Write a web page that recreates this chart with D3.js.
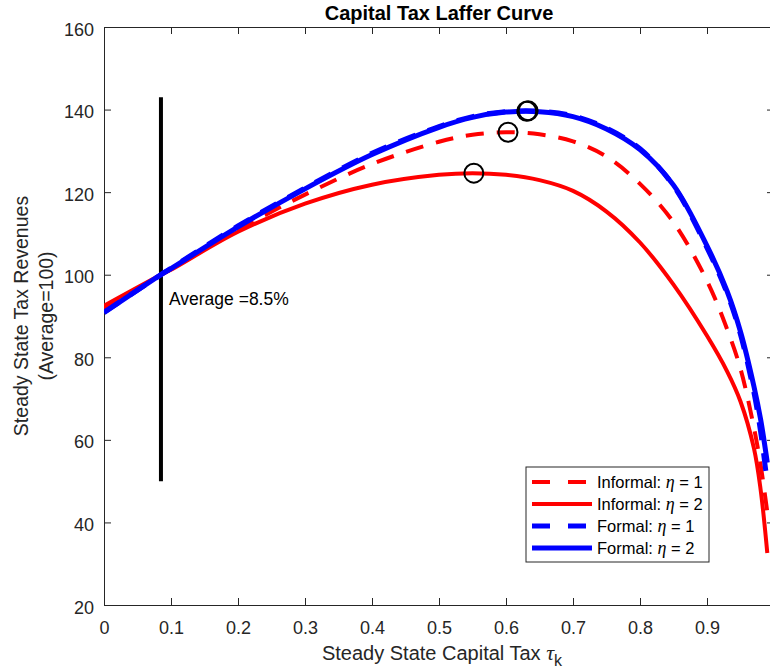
<!DOCTYPE html>
<html>
<head>
<meta charset="utf-8">
<script src="https://cdn.jsdelivr.net/npm/d3@7"></script>
<style>
  body { margin: 0; background: #fff; }
  svg { font-family: "Liberation Sans", Arial, Helvetica, sans-serif; }
</style>
</head>
<body>
<div id="chart"></div>
<script>
// capital tax grid and revenue series (average = 100)
var tau = [0, 0.085, 0.1, 0.2, 0.3, 0.4, 0.5, 0.55, 0.6, 0.65, 0.7, 0.75, 0.8, 0.85, 0.9, 0.93, 0.95, 0.97, 0.98, 0.99];
var informalEta1 = [91.8, 100, 101.3, 110.9, 119.4, 126.8, 132.2, 133.9, 134.5, 134.0, 132.3, 128.6, 122.0, 112.7, 98.5, 86.8, 77.2, 63, 54, 42.5];
var informalEta2 = [92.5, 100, 101.2, 110.4, 117.2, 121.8, 124.2, 124.6, 124.2, 122.9, 120.3, 115.3, 107.8, 97.6, 85.2, 76.6, 69.3, 58, 48, 32.6];
var formalEta1 = [90.9, 100, 101.6, 111.8, 121.0, 129.4, 135.9, 138.3, 139.5, 139.6, 138.5, 135.5, 130.5, 121.5, 106.5, 95.5, 85.5, 71.5, 62, 49.5];
var formalEta2 = [90.8, 100, 101.5, 111.6, 120.8, 129.1, 135.7, 138.1, 139.4, 139.5, 138.3, 135.3, 130.3, 121.7, 107, 96, 86.2, 73, 65, 54.5];

// maxima marked with circles
var peakTau = [0.552, 0.603, 0.631, 0.633];
var peakVal = [124.6, 134.5, 139.6, 139.7];

var avgTau = 0.085;
var avgLine = [50, 143];

var xTicks = [0, 0.1, 0.2, 0.3, 0.4, 0.5, 0.6, 0.7, 0.8, 0.9, 1];
var yTicks = [20, 40, 60, 80, 100, 120, 140, 160];

var series = [
    { name: "Informal: ", values: informalEta1, color: "#ff0000", dash: "18,13", width: 4 },
    { name: "Informal: ", values: informalEta2, color: "#ff0000", dash: null, width: 4 },
    { name: "Formal: ", values: formalEta1, color: "#0000ff", dash: "18,13", width: 5 },
    { name: "Formal: ", values: formalEta2, color: "#0000ff", dash: null, width: 5 }
];
var etaVals = [1, 2, 1, 2];

var W = 770, H = 672;
var margin = { left: 104, right: 774, top: 27, bottom: 605 };

var svg = d3.select("#chart")
    .append("svg")
    .attr("width", W)
    .attr("height", H);

var x = d3.scaleLinear().domain([0, 1]).range([margin.left, margin.right]);
var y = d3.scaleLinear().domain([20, 160]).range([margin.bottom, margin.top]);

svg.append("clipPath").attr("id", "clip")
    .append("rect")
    .attr("x", margin.left).attr("y", margin.top)
    .attr("width", margin.right - margin.left).attr("height", margin.bottom - margin.top);

var axisColor = "#262626";

// axes (box with inward ticks)
function styleAxis(g) {
    g.select(".domain").attr("stroke", axisColor);
    g.selectAll(".tick line").attr("stroke", axisColor);
    g.selectAll(".tick text").attr("fill", axisColor).style("font-size", "18px");
}

svg.append("g")
    .attr("transform", "translate(0," + margin.bottom + ")")
    .call(d3.axisBottom(x).tickValues(xTicks).tickFormat(d3.format("~g")).tickSizeInner(-7).tickSizeOuter(0).tickPadding(16))
    .call(styleAxis);

svg.append("g")
    .attr("transform", "translate(0," + margin.top + ")")
    .call(d3.axisTop(x).tickValues(xTicks).tickFormat("").tickSizeInner(-7).tickSizeOuter(0))
    .call(styleAxis);

svg.append("g")
    .attr("transform", "translate(" + margin.left + ",0)")
    .call(d3.axisLeft(y).tickValues(yTicks).tickSizeInner(-7).tickSizeOuter(0).tickPadding(10))
    .call(styleAxis)
    .call(function (g) { g.selectAll(".tick text").attr("dy", "0.45em"); });

svg.append("g")
    .attr("transform", "translate(" + margin.right + ",0)")
    .call(d3.axisRight(y).tickValues(yTicks).tickFormat("").tickSizeInner(-7).tickSizeOuter(0))
    .call(styleAxis);

var plot = svg.append("g").attr("clip-path", "url(#clip)");

// average tax line
plot.append("line")
    .attr("x1", x(avgTau)).attr("x2", x(avgTau))
    .attr("y1", y(avgLine[0])).attr("y2", y(avgLine[1]))
    .attr("stroke", "#000")
    .attr("stroke-width", 4);

var line = d3.line()
    .x(function (d, i) { return x(tau[i]); })
    .y(function (d) { return y(d); })
    .curve(d3.curveCatmullRom.alpha(0.5));

plot.selectAll("path.curve")
    .data(series)
    .enter()
    .append("path")
    .attr("class", "curve")
    .attr("d", function (d) { return line(d.values); })
    .attr("fill", "none")
    .attr("stroke", function (d) { return d.color; })
    .attr("stroke-width", function (d) { return d.width; })
    .attr("stroke-dasharray", function (d) { return d.dash; });

plot.selectAll("circle.peak")
    .data(peakTau)
    .enter()
    .append("circle")
    .attr("class", "peak")
    .attr("cx", function (d) { return x(d); })
    .attr("cy", function (d, i) { return y(peakVal[i]); })
    .attr("r", 9.5)
    .attr("fill", "none")
    .attr("stroke", "#000")
    .attr("stroke-width", 2);

svg.append("text")
    .attr("x", x(avgTau) + 8)
    .attr("y", 305)
    .style("font-size", "17.5px")
    .attr("fill", "#000")
    .text("Average =8.5%");

// legend
var lg = svg.append("g").attr("transform", "translate(526,467)");
lg.append("rect")
    .attr("width", 183).attr("height", 95)
    .attr("fill", "#fff")
    .attr("stroke", axisColor)
    .attr("stroke-width", 1);

var items = lg.selectAll("g.item")
    .data(series)
    .enter()
    .append("g")
    .attr("transform", function (d, i) { return "translate(0," + (15 + i * 22) + ")"; });

items.append("line")
    .attr("x1", 6).attr("x2", 66)
    .attr("stroke", function (d) { return d.color; })
    .attr("stroke-width", function (d) { return d.width; })
    .attr("stroke-dasharray", function (d) { return d.dash ? "18,18" : null; });

var lt = items.append("text")
    .attr("x", 71)
    .attr("y", 6)
    .style("font-size", "16.5px")
    .attr("fill", "#000");
lt.append("tspan").text(function (d) { return d.name; });
lt.append("tspan")
    .style("font-family", "'Liberation Serif', 'DejaVu Serif', serif")
    .style("font-style", "italic")
    .style("font-size", "18px")
    .text("\u03b7");
lt.append("tspan").text(function (d, i) { return " = " + etaVals[i]; });

// title and axis labels
svg.append("text")
    .attr("x", 439)
    .attr("y", 20)
    .attr("text-anchor", "middle")
    .style("font-size", "20px")
    .style("font-weight", "bold")
    .attr("fill", "#000")
    .text("Capital Tax Laffer Curve");

var xl = svg.append("text")
    .attr("x", 442)
    .attr("y", 660)
    .attr("text-anchor", "middle")
    .style("font-size", "20px")
    .attr("fill", axisColor);
xl.append("tspan").text("Steady State Capital Tax ");
xl.append("tspan")
    .style("font-family", "'Liberation Serif', 'DejaVu Serif', serif")
    .style("font-style", "italic")
    .style("font-size", "22px")
    .text("\u03c4");
xl.append("tspan").attr("dy", 6).style("font-size", "16px").text("k");

var yl = svg.append("text")
    .attr("transform", "translate(28," + ((margin.top + margin.bottom) / 2) + ") rotate(-90)")
    .attr("text-anchor", "middle")
    .style("font-size", "19.5px")
    .attr("fill", axisColor);
yl.append("tspan").attr("x", 0).attr("y", 0).text("Steady State Tax Revenues");
yl.append("tspan").attr("x", 0).attr("y", 25).text("(Average=100)");
</script>
</body>
</html>
